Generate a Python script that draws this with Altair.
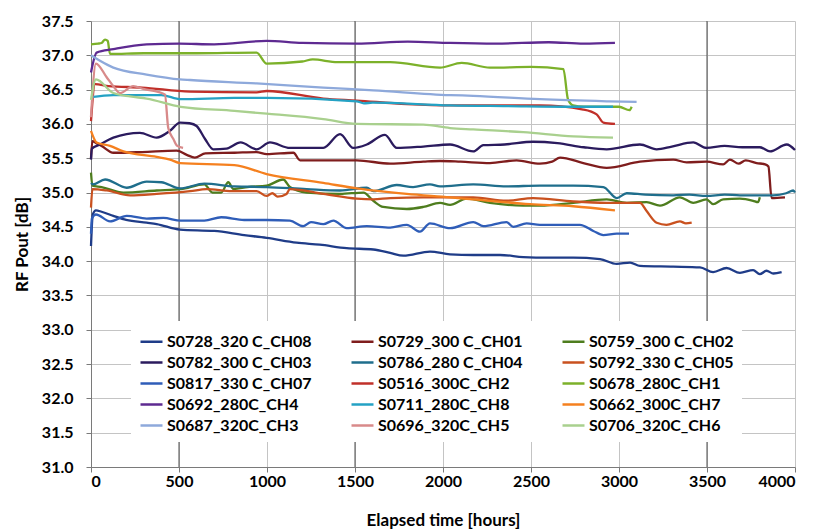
import altair as alt
import pandas as pd

# ---------------- data ----------------
series_names = [
    "S0728_320 C_CH08", "S0729_300 C_CH01", "S0759_300 C_CH02",
    "S0782_300 C_CH03", "S0786_280 C_CH04", "S0792_330 C_CH05",
    "S0817_330 C_CH07", "S0516_300C_CH2", "S0678_280C_CH1",
    "S0692_280C_CH4", "S0711_280C_CH8", "S0662_300C_CH7",
    "S0687_320C_CH3", "S0696_320C_CH5", "S0706_320C_CH6",
]
series_colors = [
    "#1F3C88", "#7F1D1D", "#4E7D1E",
    "#2B1B5E", "#1F6E8C", "#C9511F",
    "#2F5DB8", "#C0302A", "#7CB12A",
    "#5E2A91", "#24A2C4", "#F5801F",
    "#8EA9DB", "#D88A8A", "#A9D08E",
]

s0728_h = [0, 10, 28, 60, 127, 200, 316, 373, 506, 700, 870, 998, 1168, 1300, 1453, 1604, 1700, 1775, 1926, 2040,
           2172, 2324, 2456, 2600, 2740, 2892, 2987, 3063, 3119, 3308, 3460, 3535, 3611, 3687, 3762, 3800, 3838, 3877, 3924]
s0728_v = [34.22, 34.68, 34.74, 34.72, 34.66, 34.60, 34.56, 34.54, 34.46, 34.44, 34.38, 34.34, 34.27, 34.24, 34.19, 34.17,
           34.12, 34.08, 34.14, 34.10, 34.09, 34.09, 34.06, 34.05, 34.05, 34.03, 33.96, 33.98, 33.93, 33.92, 33.91, 33.84,
           33.90, 33.83, 33.87, 33.81, 33.86, 33.82, 33.84]

s0729_h = [0, 8, 30, 60, 127, 290, 487, 544, 590, 650, 815, 941, 998, 1150, 1188, 1350, 1510, 1700, 1888, 1983, 2100,
           2267, 2418, 2551, 2620, 2665, 2797, 2930, 3119, 3308, 3384, 3497, 3592, 3630, 3680, 3720, 3782, 3830, 3849,
           3867, 3943]
s0729_v = [35.50, 35.75, 35.72, 35.68, 35.58, 35.59, 35.61, 35.55, 35.51, 35.57, 35.58, 35.59, 35.56, 35.58, 35.47,
           35.47, 35.47, 35.42, 35.45, 35.46, 35.45, 35.43, 35.47, 35.42, 35.45, 35.51, 35.43, 35.36, 35.45, 35.48, 35.44,
           35.45, 35.41, 35.48, 35.42, 35.47, 35.43, 35.41, 35.38, 34.92, 34.93]

s0759_h = [0, 8, 60, 184, 373, 510, 644, 690, 740, 780, 810, 889, 998, 1092, 1130, 1225, 1415, 1548, 1604, 1660, 1794,
           1888, 1983, 2040, 2134, 2267, 2456, 2551, 2740, 2930, 3044, 3157, 3233, 3346, 3422, 3497, 3535, 3592, 3687,
           3762, 3790, 3800]
s0759_v = [35.29, 35.10, 35.08, 35.00, 35.03, 35.05, 35.12, 35.00, 35.00, 35.15, 35.05, 35.08, 35.10, 35.19, 35.08,
           35.00, 34.98, 35.00, 34.88, 34.79, 34.76, 34.79, 34.85, 34.82, 34.91, 34.85, 34.81, 34.81, 34.85, 34.90, 34.85,
           34.86, 34.81, 34.93, 34.85, 34.90, 34.83, 34.90, 34.91, 34.88, 34.86, 34.93]

s0782_h = [0, 5, 51, 127, 278, 373, 449, 506, 560, 600, 648, 695, 770, 850, 941, 1017, 1130, 1320, 1415, 1490, 1567,
           1670, 1737, 1888, 2040, 2172, 2229, 2350, 2512, 2650, 2800, 2930, 3119, 3214, 3300, 3422, 3497, 3600, 3700,
           3800, 3858, 3953, 4000]
s0782_v = [35.48, 35.64, 35.70, 35.80, 35.87, 35.80, 35.90, 36.02, 36.01, 35.97, 35.78, 35.63, 35.64, 35.73, 35.63,
           35.73, 35.65, 35.65, 35.85, 35.65, 35.70, 35.84, 35.65, 35.67, 35.70, 35.60, 35.69, 35.70, 35.74, 35.72, 35.66,
           35.63, 35.70, 35.63, 35.67, 35.73, 35.65, 35.68, 35.66, 35.66, 35.60, 35.70, 35.62]

s0786_h = [0, 10, 80, 203, 316, 400, 506, 644, 815, 998, 1225, 1415, 1567, 1604, 1737, 1830, 1926, 1983, 2172, 2361,
           2551, 2740, 2911, 2987, 3044, 3150, 3308, 3400, 3497, 3600, 3687, 3877, 3950, 3990, 4000]
s0786_v = [35.14, 35.12, 35.19, 35.07, 35.16, 35.15, 35.06, 35.13, 35.09, 35.08, 35.05, 35.03, 35.07, 35.02, 35.11,
           35.08, 35.12, 35.09, 35.12, 35.09, 35.10, 35.10, 35.08, 34.92, 34.99, 34.97, 34.96, 34.97, 34.95, 34.97, 34.96,
           34.96, 34.99, 35.03, 35.00]

s0792_h = [0, 8, 89, 222, 373, 563, 657, 800, 941, 998, 1030, 1060, 1111, 1130, 1320, 1510, 1604, 1700, 1888, 2040,
           2172, 2361, 2512, 2740, 2930, 3119, 3157, 3214, 3270, 3346, 3380, 3413]
s0792_v = [34.78, 35.05, 35.03, 34.96, 34.98, 35.02, 35.05, 35.02, 35.02, 34.95, 34.99, 34.94, 34.98, 35.05, 34.98,
           34.91, 34.90, 34.92, 34.93, 34.93, 34.93, 34.88, 34.92, 34.87, 34.85, 34.85, 34.73, 34.56, 34.53, 34.58, 34.55,
           34.56]

s0817_h = [0, 5, 28, 108, 203, 316, 411, 510, 644, 740, 870, 998, 1130, 1206, 1250, 1320, 1377, 1453, 1567, 1700, 1794,
           1869, 1926, 2040, 2172, 2229, 2361, 2399, 2475, 2551, 2778, 2854, 2911, 2987, 3057]
s0817_v = [34.40, 34.62, 34.68, 34.58, 34.66, 34.62, 34.63, 34.59, 34.59, 34.64, 34.60, 34.60, 34.59, 34.51, 34.57,
           34.54, 34.59, 34.48, 34.51, 34.49, 34.53, 34.43, 34.55, 34.48, 34.57, 34.51, 34.57, 34.50, 34.55, 34.53, 34.53,
           34.44, 34.38, 34.40, 34.40]

s0516_h = [0, 23, 100, 290, 563, 941, 998, 1320, 1510, 1794, 2040, 2172, 2551, 2797, 2873, 2911, 2977]
s0516_v = [36.04, 36.58, 36.55, 36.53, 36.47, 36.46, 36.48, 36.37, 36.34, 36.29, 36.27, 36.27, 36.27, 36.21, 36.14,
           36.02, 36.00]

s0678_h = [0, 40, 60, 80, 95, 108, 300, 600, 941, 998, 1200, 1260, 1400, 1700, 1983, 2106, 2267, 2500, 2684, 2710,
           2739, 2800, 3000, 3060, 3072]
s0678_v = [37.16, 37.17, 37.18, 37.23, 37.21, 37.02, 37.03, 37.03, 37.04, 36.88, 36.91, 36.94, 36.90, 36.90, 36.82,
           36.89, 36.82, 36.83, 36.80, 36.36, 36.27, 36.25, 36.25, 36.20, 36.25]

s0692_h = [0, 32, 127, 316, 500, 700, 998, 1200, 1510, 1800, 2040, 2300, 2600, 2800, 2977]
s0692_v = [36.75, 37.04, 37.09, 37.16, 37.17, 37.16, 37.21, 37.18, 37.17, 37.20, 37.18, 37.17, 37.19, 37.17, 37.18]

s0711_h = [0, 127, 400, 510, 815, 998, 1510, 1550, 1600, 2040, 2361, 2740, 2966]
s0711_v = [36.39, 36.42, 36.42, 36.36, 36.38, 36.38, 36.33, 36.30, 36.31, 36.27, 36.26, 36.25, 36.25]

s0662_h = [0, 32, 108, 184, 373, 449, 506, 815, 998, 1320, 1510, 1794, 2040, 2172, 2494, 2740, 2977]
s0662_v = [35.90, 35.73, 35.68, 35.60, 35.52, 35.48, 35.43, 35.40, 35.27, 35.14, 35.06, 34.98, 34.93, 34.90, 34.83,
           34.80, 34.74]

s0687_h = [0, 51, 127, 316, 505, 563, 941, 1320, 1604, 2040, 2172, 2551, 2930, 3100]
s0687_v = [37.00, 36.92, 36.82, 36.72, 36.65, 36.64, 36.59, 36.53, 36.49, 36.42, 36.41, 36.36, 36.33, 36.32]

s0696_h = [0, 28, 89, 127, 165, 240, 297, 420, 439, 468, 490, 523]
s0696_v = [36.10, 36.88, 36.68, 36.55, 36.45, 36.55, 36.51, 36.43, 35.94, 35.78, 35.68, 35.65]

s0706_h = [0, 28, 127, 222, 316, 510, 815, 998, 1320, 1510, 1888, 2040, 2172, 2456, 2740, 2966]
s0706_v = [36.35, 36.65, 36.45, 36.40, 36.37, 36.25, 36.19, 36.15, 36.07, 36.00, 35.99, 35.94, 35.92, 35.88, 35.82,
           35.80]

x_ticks = [0, 500, 1000, 1500, 2000, 2500, 3000, 3500, 4000]
y_ticks = [31.0, 31.5, 32.0, 32.5, 33.0, 33.5, 34.0, 34.5, 35.0, 35.5, 36.0, 36.5, 37.0, 37.5]
dark_grid_x = [500, 1500, 3500]

# ---------------- build table ----------------
series_data = [
    (s0728_h, s0728_v), (s0729_h, s0729_v), (s0759_h, s0759_v),
    (s0782_h, s0782_v), (s0786_h, s0786_v), (s0792_h, s0792_v),
    (s0817_h, s0817_v), (s0516_h, s0516_v), (s0678_h, s0678_v),
    (s0692_h, s0692_v), (s0711_h, s0711_v), (s0662_h, s0662_v),
    (s0687_h, s0687_v), (s0696_h, s0696_v), (s0706_h, s0706_v),
]
rows = []
for name, (hs, vs) in zip(series_names, series_data):
    for h, v in zip(hs, vs):
        rows.append({"series": name, "hours": h, "rf": v})
df = pd.DataFrame(rows)

FONT = "Lato"

x_enc = alt.X("hours:Q", scale=alt.Scale(domain=[0, 4000], nice=False),
              axis=alt.Axis(values=x_ticks, title="Elapsed time [hours]", format="d",
                            labelPadding=1, titlePadding=23))
y_enc = alt.Y("rf:Q", scale=alt.Scale(domain=[31, 37.5], nice=False, zero=False),
              axis=alt.Axis(values=y_ticks, title="RF Pout [dB]", format=".1f",
                            labelPadding=13, titlePadding=10))

dark_rules = alt.Chart(pd.DataFrame({"hours": dark_grid_x})).mark_rule(
    color="#4a4a4a", strokeWidth=1
).encode(x=alt.X("hours:Q"))

lines = alt.Chart(df).mark_line(strokeWidth=2.3, interpolate="monotone").encode(
    x=x_enc,
    y=y_enc,
    color=alt.Color(
        "series:N",
        sort=series_names,
        scale=alt.Scale(domain=series_names, range=series_colors),
        legend=alt.Legend(
            title=None, orient="none", legendX=40, legendY=300, columns=3,
            direction="horizontal",
            symbolType="stroke", symbolSize=484, symbolStrokeWidth=2.5,
            labelFont=FONT, labelFontWeight="bold", labelFontSize=16, labelColor="black",
            labelLimit=400, columnPadding=34, rowPadding=0, labelOffset=3,
            fillColor="white", padding=8,
        ),
    ),
)

chart = alt.layer(dark_rules, lines).properties(
    width=704, height=446, background="white",
).configure_view(stroke=None).configure_axis(
    labelFont=FONT, labelFontWeight="bold", labelFontSize=16, labelColor="black",
    titleFont=FONT, titleFontWeight="bold", titleFontSize=17, titleColor="black",
    gridColor="#c4c4c4", gridWidth=1, domainColor="#7a7a7a", tickColor="#7a7a7a",
    tickSize=5,
)

chart.save("out.html", embed_options={"renderer": "svg", "actions": False})
